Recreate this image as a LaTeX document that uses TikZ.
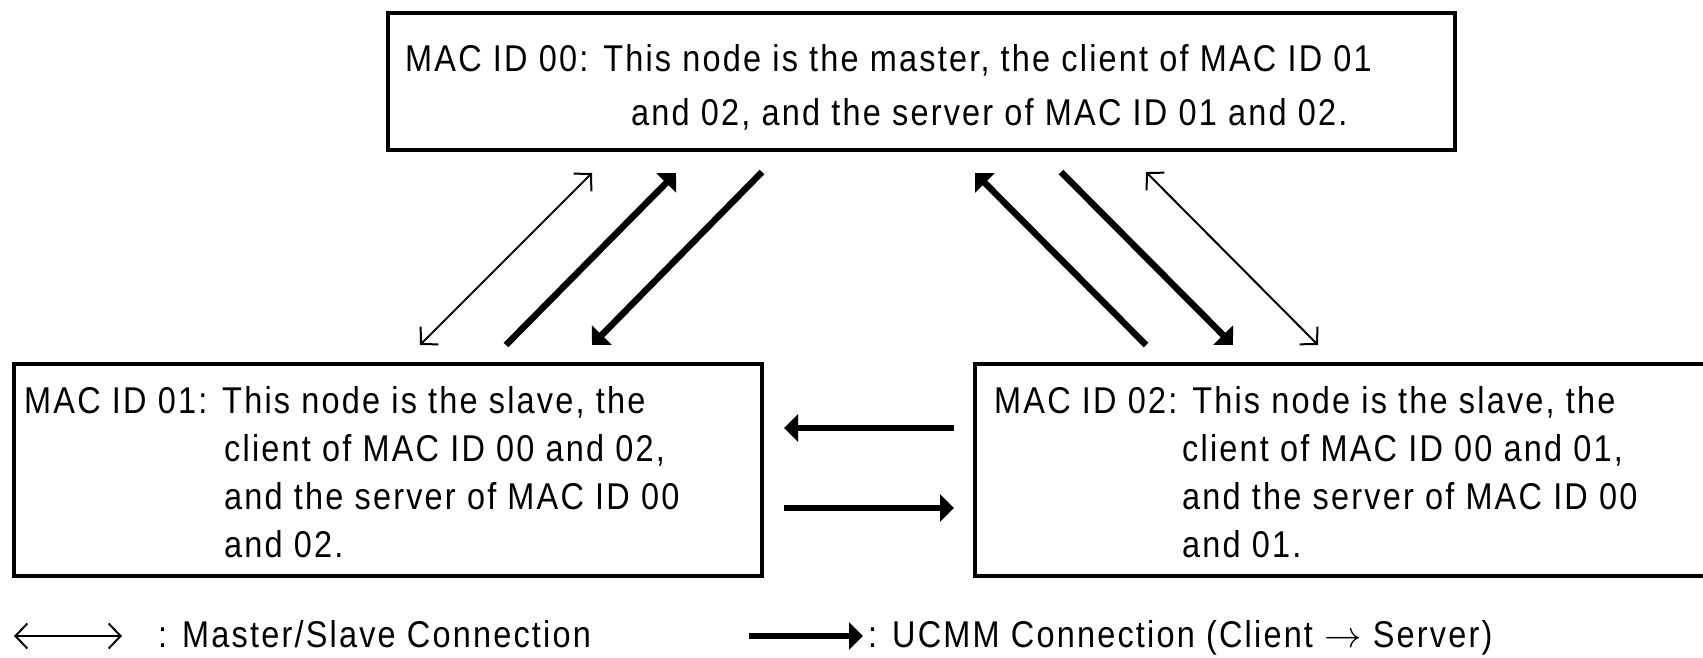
\RequirePackage{fix-cm}
\documentclass[tikz,border=0pt]{standalone}
\usepackage{fontspec}
\setmainfont{Liberation Sans}[FakeStretch=0.87,LetterSpace=5.9]
\usetikzlibrary{arrows.meta}
\begin{document}
\begin{tikzpicture}[x=1pt,y=-1pt]
\tikzset{
  box/.style={draw, line width=3.5pt},
  txt/.style={inner sep=0pt, anchor=base west, font=\fontsize{37.3}{44}\selectfont},
  ms/.style={line width=2pt, {Straight Barb[length=12pt,width=25pt,line width=2pt]}-{Straight Barb[length=12pt,width=25pt,line width=2pt]}},
  ucmm/.style={line width=6.5pt, -{Triangle[length=14pt,width=27pt]}}
}
\useasboundingbox (0,0) rectangle (1703,658);
\clip (0,0) rectangle (1703,658);
% boxes
\draw[box] (388,13) rectangle (1455,150);
\draw[box] (14,364) rectangle (762,576);
\draw[box] (975,364) rectangle (1730,576);
% top box text
\node[txt] (t1) at (405,72) {MAC ID 00: This node is the master, the client of MAC ID 01};
\node[txt] (t2) at (631,126) {and 02, and the server of MAC ID 01 and 02.};
% left box text
\node[txt] (l1) at (24,413) {MAC ID 01: This node is the slave, the};
\node[txt] (l2) at (224,461) {client of MAC ID 00 and 02,};
\node[txt] (l3) at (224,509) {and the server of MAC ID 00};
\node[txt] (l4) at (224,557) {and 02.};
% right box text
\node[txt] (r1) at (994,413) {MAC ID 02: This node is the slave, the};
\node[txt] (r2) at (1182,461) {client of MAC ID 00 and 01,};
\node[txt] (r3) at (1182,509) {and the server of MAC ID 00};
\node[txt] (r4) at (1182,557) {and 01.};
% connector end points
\coordinate (a1) at (420,345); \coordinate (b1) at (592,173);
\coordinate (a2) at (506,345); \coordinate (b2) at (676,173);
\coordinate (a3) at (762,172); \coordinate (b3) at (592,345);
\coordinate (a4) at (1146,345); \coordinate (b4) at (975,173);
\coordinate (a5) at (1061,172); \coordinate (b5) at (1233,345);
\coordinate (a6) at (1146,172); \coordinate (b6) at (1318,345);
\coordinate (a7) at (954,428); \coordinate (b7) at (784,428);
\coordinate (a8) at (784,508); \coordinate (b8) at (954,508);
\draw[ms] (a1) -- (b1);
\draw[ucmm] (a2) -- (b2);
\draw[ucmm] (a3) -- (b3);
\draw[ucmm] (a4) -- (b4);
\draw[ucmm] (a5) -- (b5);
\draw[ms] (a6) -- (b6);
\draw[ucmm] (a7) -- (b7);
\draw[ucmm] (a8) -- (b8);
% legend
\coordinate (la) at (14,636); \coordinate (lb) at (122,636);
\draw[ms] (la) -- (lb);
\node[txt] (lt1) at (158,647) {: Master/Slave Connection};
\coordinate (lc) at (749,636); \coordinate (ld) at (863,636);
\draw[ucmm] (lc) -- (ld);
\node[txt] (lt2) at (868,647) {: UCMM Connection (Client $\rightarrow$ Server)};
\end{tikzpicture}
\end{document}
